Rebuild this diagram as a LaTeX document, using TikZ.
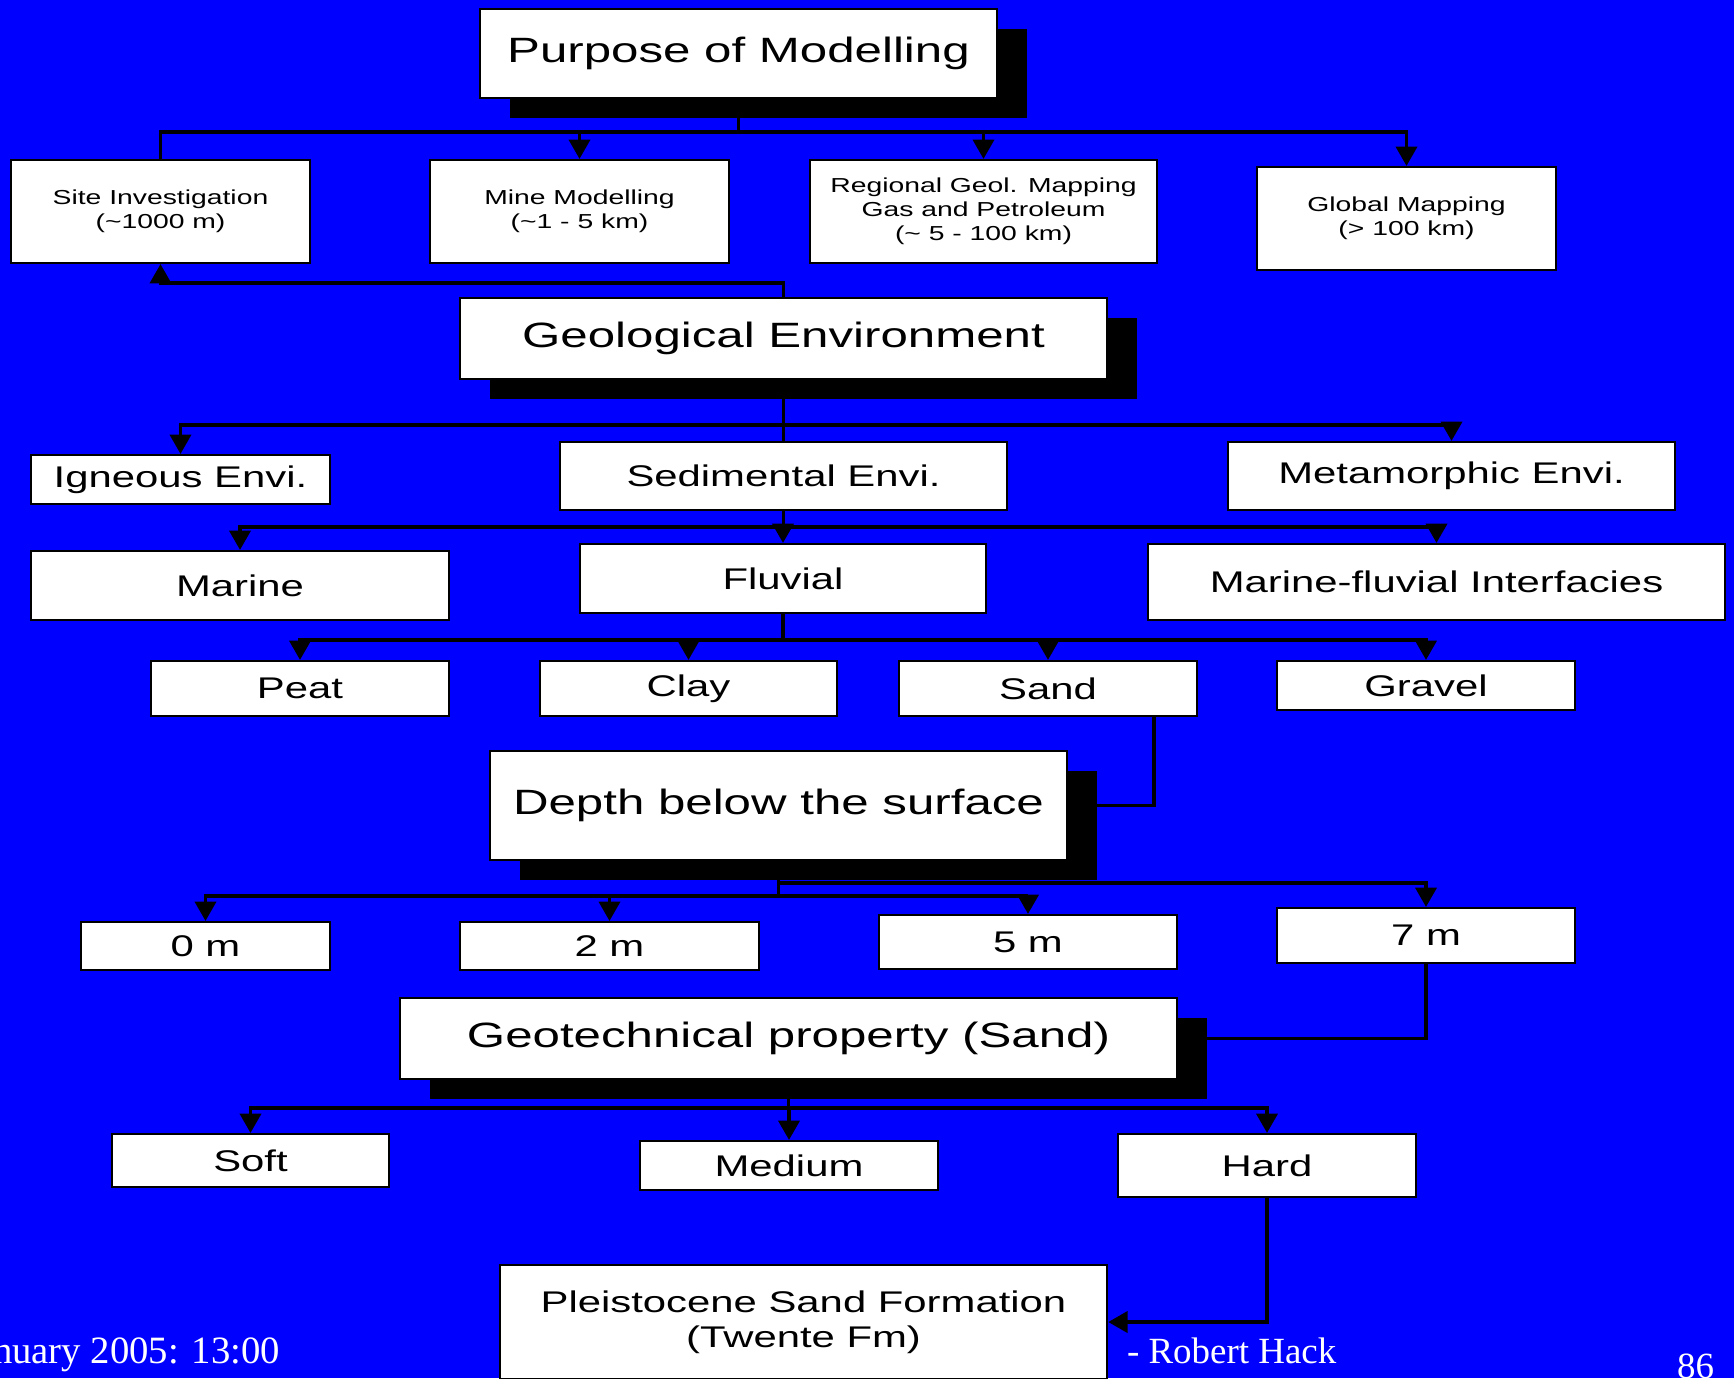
\documentclass[tikz,border=0pt]{standalone}
\usepackage{fontspec}
\newfontfamily\boxfont[FakeStretch=1.4]{Liberation Sans}
\newfontfamily\footfont{Liberation Serif}
\usetikzlibrary{arrows.meta,shadows,calc}
\definecolor{slideblue}{RGB}{0,0,255}
\tikzset{every picture/.style={line width=0.6pt}}
\tikzset{
  box/.style={draw=black, fill=white, inner sep=0pt, align=center},
  headbox/.style={box, font=\boxfont\fontsize{10}{12}\selectfont,
    drop shadow={shadow xshift=0.3cm, shadow yshift=-0.2cm, fill=black, opacity=1}},
  envbox/.style={box, font=\boxfont\fontsize{8.5}{10}\selectfont},
  notebox/.style={box, font=\boxfont\fontsize{5.75}{6.8}\selectfont},
  link/.style={line width=1pt},
  arr/.style={link, -{Triangle[length=5.5pt,width=6pt]}},
  foot/.style={white, font=\footfont\fontsize{10.5}{12}\selectfont}
}

\begin{document}
\begin{tikzpicture}[x=0.01cm, y=-0.01cm]
    % slide
    \path[use as bounding box, fill=slideblue] (0,0) rectangle (1734,1378);
    % purpose
    \node[headbox, minimum width=5.17cm, minimum height=0.89cm] (purpose) at (738.5,53.5) {Purpose of Modelling};
    \node[notebox, minimum width=2.99cm, minimum height=1.03cm] (site) at (160.5,211.5) {Site Investigation\\(\textasciitilde1000 m)};
    \node[notebox, minimum width=2.99cm, minimum height=1.03cm] (mine) at (579.5,211.5) {Mine Modelling\\(\textasciitilde1 - 5 km)};
    \node[notebox, minimum width=3.47cm, minimum height=1.03cm] (regional) at (983.5,211.5) {Regional Geol. Mapping\\Gas and Petroleum\\(\textasciitilde{} 5 - 100 km)};
    \node[notebox, minimum width=2.99cm, minimum height=1.03cm] (global) at (1406.5,218.5) {Global Mapping\\(> 100 km)};
    % environment
    \node[headbox, minimum width=6.47cm, minimum height=0.81cm] (geo) at (783.5,338.5) {Geological Environment};
    \node[envbox, minimum width=2.99cm, minimum height=0.49cm] (igneous) at (180.5,479.5) {Igneous Envi.};
    \node[envbox, minimum width=4.47cm, minimum height=0.68cm] (sediment) at (783.5,476) {Sedimental Envi.};
    \node[envbox, minimum width=4.47cm, minimum height=0.68cm] (metamorph) at (1451.5,476) {Metamorphic Envi.};
    \node[envbox, minimum width=4.18cm, minimum height=0.69cm] (marine) at (240,585.5) {Marine};
    \node[envbox, minimum width=4.06cm, minimum height=0.69cm] (fluvial) at (783,578.5) {Fluvial};
    \node[envbox, minimum width=5.77cm, minimum height=0.76cm] (interface) at (1436.5,582) {Marine-fluvial Interfacies};
    \node[envbox, minimum width=2.98cm, minimum height=0.55cm] (peat) at (300,688.5) {Peat};
    \node[envbox, minimum width=2.97cm, minimum height=0.55cm] (clay) at (688.5,688.5) {Clay};
    \node[envbox, minimum width=2.98cm, minimum height=0.55cm] (sand) at (1048,688.5) {Sand};
    \node[envbox, minimum width=2.98cm, minimum height=0.49cm] (gravel) at (1426,685.5) {Gravel};
    % depth
    \node[headbox, minimum width=5.77cm, minimum height=1.09cm] (depth) at (778.5,805.5) {Depth below the surface};
    \node[envbox, minimum width=2.49cm, minimum height=0.48cm] (m0) at (205.5,946) {0 m};
    \node[envbox, minimum width=2.99cm, minimum height=0.48cm] (m2) at (609.5,946) {2 m};
    \node[envbox, minimum width=2.98cm, minimum height=0.54cm] (m5) at (1028,942) {5 m};
    \node[envbox, minimum width=2.98cm, minimum height=0.55cm] (m7) at (1426,935.5) {7 m};
    % geotechnics
    \node[headbox, minimum width=7.77cm, minimum height=0.81cm] (geotech) at (788.5,1038.5) {Geotechnical property (Sand)};
    \node[envbox, minimum width=2.77cm, minimum height=0.53cm] (soft) at (250.5,1160.5) {Soft};
    \node[envbox, minimum width=2.98cm, minimum height=0.49cm] (medium) at (789,1165.5) {Medium};
    \node[envbox, minimum width=2.98cm, minimum height=0.63cm] (hard) at (1267,1165.5) {Hard};
    \node[envbox, minimum width=6.07cm, minimum height=1.14cm, font=\boxfont\fontsize{8.5}{9.9}\selectfont] (pleist) at (803.5,1322) {Pleistocene Sand Formation\\(Twente Fm)};
    % bus levels
    \coordinate (bus1) at (0,132);
    \coordinate (bus2) at (0,283);
    \coordinate (bus3) at (0,425);
    \coordinate (bus4) at (0,527);
    \coordinate (bus5) at (0,640);
    \coordinate (bus6) at (0,896);
    \coordinate (bus7) at (0,883);
    \coordinate (bus8) at (0,1108);
    % connectors
    \draw[link] (purpose.south) -- (purpose.south |- bus1) -| (site.north);
    \foreach \t in {mine,regional,global}
        \draw[arr] (purpose.south) -- (purpose.south |- bus1) -| (\t.north);
    \draw[arr] (geo.north) -- (geo.north |- bus2) -| (site.south);
    \draw[link] (geo.south) -- (sediment.north);
    \foreach \t in {igneous,metamorph}
        \draw[arr] (geo.south) -- (geo.south |- bus3) -| (\t.north);
    \foreach \t in {marine,fluvial,interface}
        \draw[arr] (sediment.south) -- (sediment.south |- bus4) -| (\t.north);
    \foreach \t in {peat,clay,sand,gravel}
        \draw[arr] (fluvial.south) -- (fluvial.south |- bus5) -| (\t.north);
    \draw[link] ($(sand.south east)+(-44,0)$) |- (depth.east);
    \foreach \t in {m0,m2,m5}
        \draw[arr] (depth.south) -- (depth.south |- bus6) -| (\t.north);
    \draw[arr] (depth.south) -- (depth.south |- bus7) -| (m7.north);
    \draw[link] (m7.south) |- (geotech.east);
    \foreach \t in {soft,medium,hard}
        \draw[arr] (geotech.south) -- (geotech.south |- bus8) -| (\t.north);
    \draw[arr] (hard.south) |- (pleist.east);
    % footer
    \node[foot, font=\footfont\fontsize{11}{12}\selectfont, anchor=base east, inner sep=0pt] (date) at (281,1363) {January 2005: 13:00};
    \node[foot, anchor=base west, inner sep=0pt] (author) at (1126,1363) {- Robert Hack};
    \node[foot, anchor=base west, inner sep=0pt] (page) at (1676,1378) {86};
\end{tikzpicture}
\end{document}
